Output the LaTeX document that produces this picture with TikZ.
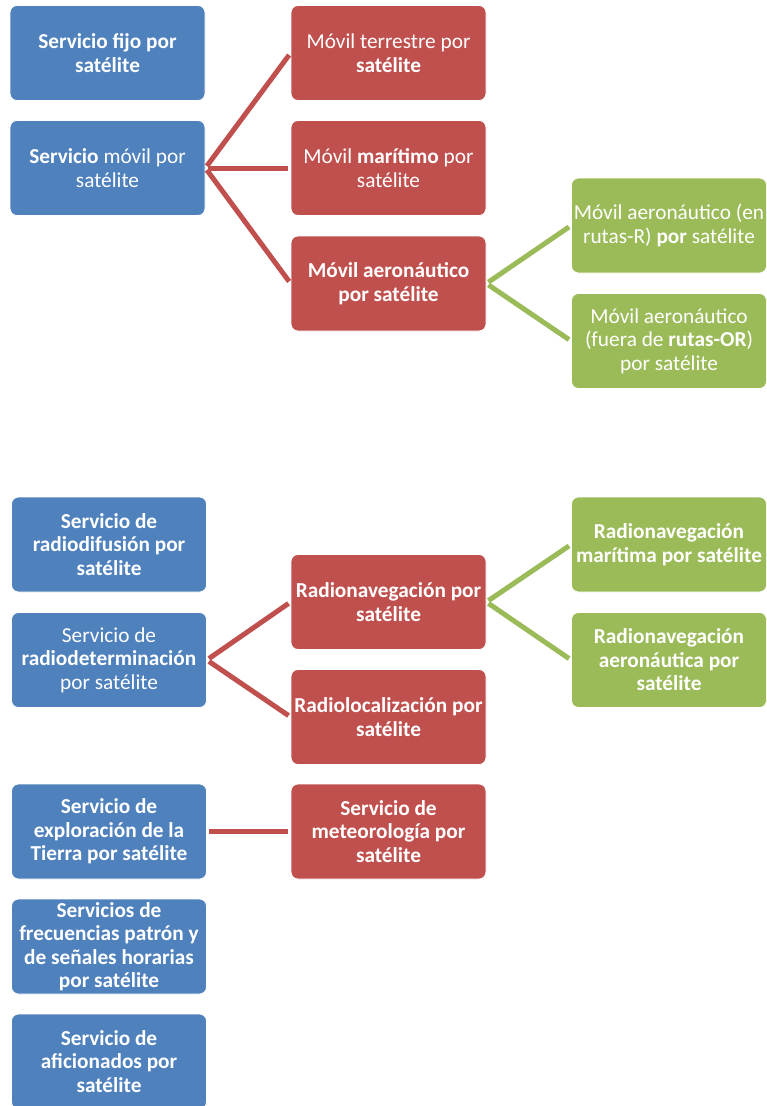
\documentclass[tikz,border=0pt]{standalone}
\usepackage{fontspec}
\setmainfont{Carlito}
\definecolor{sblue}{HTML}{4F81BD}
\definecolor{sred}{HTML}{C0504D}
\definecolor{sgreen}{HTML}{9BBB59}
\begin{document}
\begin{tikzpicture}[x=1pt,y=-1pt,
  box/.style={rectangle, rounded corners=7pt, draw=white, line width=0.8pt,
    minimum width=195pt, minimum height=95pt, inner sep=0pt, align=center,
    text=white, font=\fontsize{21.3}{23.5}\selectfont},
  bluebox/.style={box, fill=sblue},
  redbox/.style={box, fill=sred},
  greenbox/.style={box, fill=sgreen},
  conn/.style={line width=5pt, shorten <=2.5pt, shorten >=2.5pt},
  redline/.style={conn, draw=sred},
  greenline/.style={conn, draw=sgreen}]
\useasboundingbox (0,0) rectangle (766,1106);
\begin{scope}
\clip (0,0) rectangle (766,1106);
% top section
\node[bluebox] (b1) at (107.5,53) {\textbf{Servicio fijo por}\\\textbf{satélite}};
\node[bluebox] (b2) at (107.5,168) {\textbf{Servicio} móvil por\\satélite};
\node[redbox] (r1) at (388.5,53) {Móvil terrestre por\\\textbf{satélite}};
\node[redbox] (r2) at (388.5,168) {Móvil \textbf{marítimo} por\\satélite};
\node[redbox] (r3) at (388.5,283.5) {\textbf{Móvil aeronáutico}\\\textbf{por satélite}};
\node[greenbox] (g1) at (669,225.5) {Móvil aeronáutico (en\\rutas-R) \textbf{por} satélite};
\node[greenbox] (g2) at (669,341) {Móvil aeronáutico\\(fuera de \textbf{rutas-OR})\\por satélite};
\draw[redline] (b2.east) -- (r1.west);
\draw[redline] (b2.east) -- (r2.west);
\draw[redline] (b2.east) -- (r3.west);
\draw[greenline] (r3.east) -- (g1.west);
\draw[greenline] (r3.east) -- (g2.west);
% bottom section
\node[bluebox] (ba) at (109,544.5) {\textbf{Servicio de}\\\textbf{radiodifusión por}\\\textbf{satélite}};
\node[bluebox] (bb) at (109,660) {Servicio de\\\textbf{radiodeterminación}\\por satélite};
\node[redbox] (ra) at (388.5,602) {\textbf{Radionavegación por}\\\textbf{satélite}};
\node[redbox] (rb) at (388.5,717) {\textbf{Radiolocalización por}\\\textbf{satélite}};
\node[greenbox] (ga) at (669,544.5) {\textbf{Radionavegación}\\\textbf{marítima por satélite}};
\node[greenbox] (gb) at (669,660) {\textbf{Radionavegación}\\\textbf{aeronáutica por}\\\textbf{satélite}};
\node[bluebox] (bc) at (109,831.5) {\textbf{Servicio de}\\\textbf{exploración de la}\\\textbf{Tierra por satélite}};
\node[redbox] (rc) at (388.5,831.5) {\textbf{Servicio de}\\\textbf{meteorología por}\\\textbf{satélite}};
\node[bluebox] (bd) at (109,946.5) {\textbf{Servicios de}\\\textbf{frecuencias patrón y}\\\textbf{de señales horarias}\\\textbf{por satélite}};
\node[bluebox] (be) at (109,1061.5) {\textbf{Servicio de}\\\textbf{aficionados por}\\\textbf{satélite}};
\draw[redline] (bb.east) -- (ra.west);
\draw[redline] (bb.east) -- (rb.west);
\draw[greenline] (ra.east) -- (ga.west);
\draw[greenline] (ra.east) -- (gb.west);
\draw[redline] (bc.east) -- (rc.west);
\end{scope}
\end{tikzpicture}
\end{document}
